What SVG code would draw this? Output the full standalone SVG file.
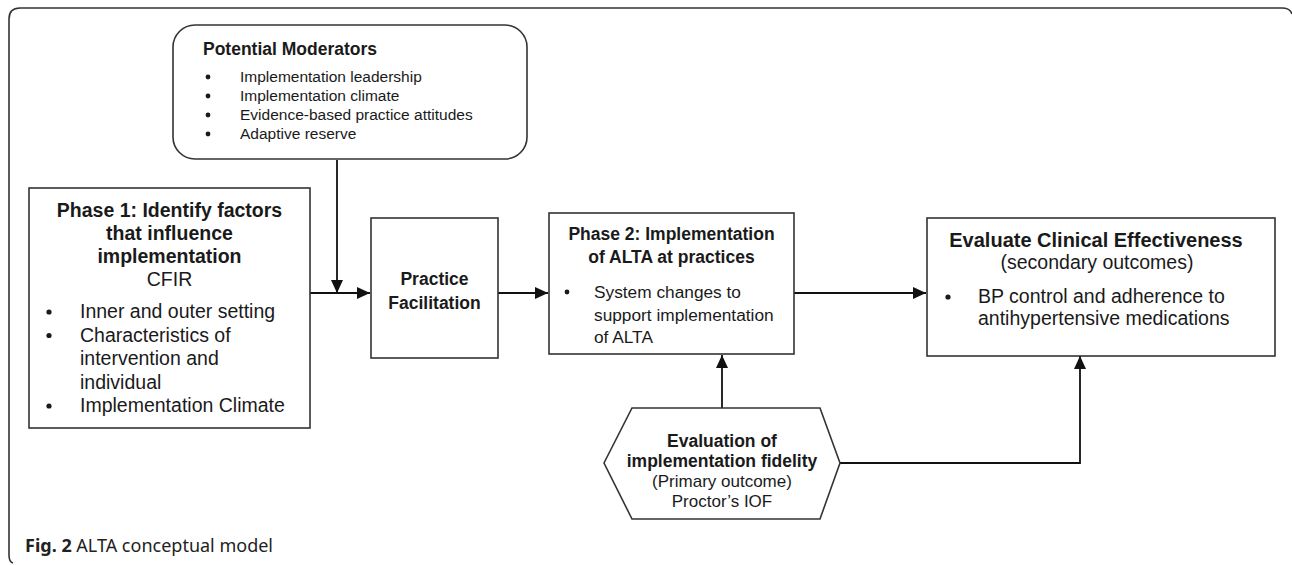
<svg xmlns="http://www.w3.org/2000/svg" width="1292" height="565" viewBox="0 0 1292 565">
<defs>
<marker id="arr" markerUnits="userSpaceOnUse" markerWidth="14" markerHeight="12" refX="13" refY="6" orient="auto">
<path d="M0,0 L13,6 L0,12 Z" fill="#111"/>
</marker>
<style>
.box{fill:#fff;stroke:#333;stroke-width:1.6}
.t{font-family:"Liberation Sans",Arial,sans-serif;fill:#1a1a1a}
.b{font-weight:bold}
.c{text-anchor:middle}
.dot{fill:#1a1a1a}
.ln{fill:none;stroke:#111;stroke-width:1.8}
.cap{font-family:"Noto Sans","Open Sans",sans-serif;fill:#222;font-size:18px}
</style>
</defs>
<rect width="1292" height="565" fill="#fff"/>
<path d="M1292,14 Q1290,8 1282,8 L20,8 Q9,8 9,19 L9,555 Q9,562 13,563" fill="none" stroke="#333" stroke-width="1.6"/>

<g id="connectors">
<line class="ln" x1="310" y1="293" x2="370" y2="293" marker-end="url(#arr)"/>
<line class="ln" x1="337" y1="160" x2="337" y2="293" marker-end="url(#arr)"/>
<line class="ln" x1="498" y1="293" x2="548" y2="293" marker-end="url(#arr)"/>
<line class="ln" x1="794" y1="293" x2="926" y2="293" marker-end="url(#arr)"/>
<line class="ln" x1="722" y1="408" x2="722" y2="355" marker-end="url(#arr)"/>
<polyline class="ln" points="840,463 1080,463 1080,356" marker-end="url(#arr)"/>
</g>

<g id="moderators">
<rect class="box" x="173" y="25" width="354" height="134" rx="22"/>
<text class="t b" x="203" y="55" font-size="17.5">Potential Moderators</text>
<circle class="dot" cx="208" cy="77" r="2.4"/><text class="t" x="240" y="82" font-size="15.5">Implementation leadership</text>
<circle class="dot" cx="208" cy="96" r="2.4"/><text class="t" x="240" y="101" font-size="15.5">Implementation climate</text>
<circle class="dot" cx="208" cy="115" r="2.4"/><text class="t" x="240" y="120" font-size="15.5">Evidence-based practice attitudes</text>
<circle class="dot" cx="208" cy="134" r="2.4"/><text class="t" x="240" y="139" font-size="15.5">Adaptive reserve</text>
</g>

<g id="phase1">
<rect class="box" x="29" y="188" width="281" height="240"/>
<text class="t b c" x="169.5" y="217" font-size="19.5">Phase 1: Identify factors</text>
<text class="t b c" x="169.5" y="240" font-size="19.5">that influence</text>
<text class="t b c" x="169.5" y="263" font-size="19.5">implementation</text>
<text class="t c" x="169.5" y="286" font-size="19.5">CFIR</text>
<circle class="dot" cx="49" cy="312" r="2.6"/><text class="t" x="80" y="318" font-size="19.5">Inner and outer setting</text>
<circle class="dot" cx="49" cy="335.5" r="2.6"/><text class="t" x="80" y="341.5" font-size="19.5">Characteristics of</text>
<text class="t" x="80" y="365" font-size="19.5">intervention and</text>
<text class="t" x="80" y="388.5" font-size="19.5">individual</text>
<circle class="dot" cx="49" cy="406" r="2.6"/><text class="t" x="80" y="412" font-size="19.5">Implementation Climate</text>
</g>

<g id="practice">
<rect class="box" x="371" y="218" width="127" height="140"/>
<text class="t b c" x="434.5" y="285" font-size="17.5">Practice</text>
<text class="t b c" x="434.5" y="309" font-size="17.5">Facilitation</text>
</g>

<g id="phase2">
<rect class="box" x="549" y="213" width="245" height="141"/>
<text class="t b c" x="671.5" y="240" font-size="17.5">Phase 2: Implementation</text>
<text class="t b c" x="671.5" y="263" font-size="17.5">of ALTA at practices</text>
<circle class="dot" cx="567" cy="292" r="2.4"/><text class="t" x="594" y="298" font-size="17.3">System changes to</text>
<text class="t" x="594" y="320.5" font-size="17.3">support implementation</text>
<text class="t" x="594" y="343" font-size="17.3">of ALTA</text>
</g>

<g id="evaluate">
<rect class="box" x="927" y="218" width="348" height="138"/>
<text class="t b c" x="1096" y="247" font-size="20">Evaluate Clinical Effectiveness</text>
<text class="t c" x="1097" y="269" font-size="19.5">(secondary outcomes)</text>
<circle class="dot" cx="948" cy="297" r="2.6"/><text class="t" x="978" y="303" font-size="19.5">BP control and adherence to</text>
<text class="t" x="978" y="325" font-size="19.5">antihypertensive medications</text>
</g>

<g id="fidelity">
<polygon class="box" points="604,463 632,408 820,408 840,463 820,519 632,519"/>
<text class="t b c" x="722" y="447" font-size="17.5">Evaluation of</text>
<text class="t b c" x="722" y="467" font-size="17.5">implementation fidelity</text>
<text class="t c" x="722" y="486.5" font-size="17">(Primary outcome)</text>
<text class="t c" x="722" y="506.5" font-size="17">Proctor’s IOF</text>
</g>

<g id="caption">
<text class="cap" x="25" y="552"><tspan font-weight="bold">Fig. 2</tspan> ALTA conceptual model</text>
</g>
</svg>
